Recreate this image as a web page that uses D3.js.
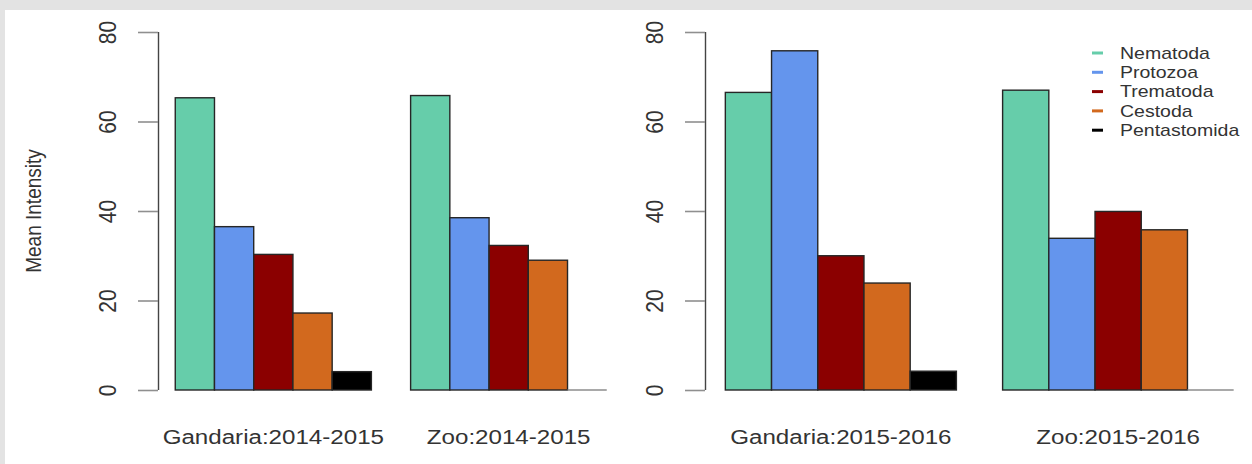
<!DOCTYPE html>
<html>
<head>
<meta charset="utf-8">
<script src="https://cdn.jsdelivr.net/npm/d3@7"></script>
<style>
  html, body { margin: 0; padding: 0; background: #e3e3e3; }
  svg { display: block; }
  text { font-family: "Liberation Sans", Arial, Helvetica, sans-serif; fill: #333; }
</style>
</head>
<body>
<svg id="chart" width="1252" height="464"></svg>
<script>
// Parasite groups, in bar order within each site/season group
const categories = ["Nematoda", "Protozoa", "Trematoda", "Cestoda", "Pentastomida"];
const colors = ["#66CDAA", "#6495ED", "#8B0000", "#D2691E", "#000000"];

// Season 2014-2015
const groups1415 = ["Gandaria:2014-2015", "Zoo:2014-2015"];
const gandaria1415 = [65.3, 36.5, 30.3, 17.2, 4.1];
const zoo1415 = [65.8, 38.5, 32.3, 29.0, 0];

// Season 2015-2016
const groups1516 = ["Gandaria:2015-2016", "Zoo:2015-2016"];
const gandaria1516 = [66.5, 75.8, 30.0, 23.9, 4.2];
const zoo1516 = [67.0, 33.9, 39.9, 35.8, 0];

const yTicks = [0, 20, 40, 60, 80];
const yLabel = "Mean Intensity";

const svg = d3.select("#chart");

// white plotting page over a grey surround
svg.append("rect").attr("x", 5).attr("y", 10).attr("width", 1247).attr("height", 454).attr("fill", "#fff");

const stretch = 1.15;   // horizontal text widening used throughout

function panel(groups, series, x0, x1) {
  const g = svg.append("g");
  const nCat = categories.length;
  // bar-unit positions: group i occupies [1 + i*(nCat+1), 1 + i*(nCat+1) + nCat]
  const uMax = groups.length * nCat + (groups.length - 1);
  const pad = 0.04 * (uMax);
  const x = d3.scaleLinear().domain([1 - pad, 1 + uMax + pad]).range([x0, x1]);
  const y = d3.scaleLinear().domain([0, 80]).range([390, 32]);

  const bars = [];
  groups.forEach((grp, gi) => {
    series[gi].forEach((v, ci) => {
      const u = 1 + gi * (nCat + 1) + ci;
      bars.push({ v, ci, u });
    });
  });

  // bars with a value
  g.selectAll("rect.bar").data(bars.filter(d => d.v > 0)).join("rect")
    .attr("class", "bar")
    .attr("x", d => x(d.u))
    .attr("width", d => x(d.u + 1) - x(d.u))
    .attr("y", d => y(d.v))
    .attr("height", d => y(0) - y(d.v))
    .attr("fill", d => colors[d.ci])
    .attr("stroke", "#262626")
    .attr("stroke-width", 1.4);

  // zero-height bars collapse to their outline
  g.selectAll("line.zero").data(bars.filter(d => d.v === 0)).join("line")
    .attr("class", "zero")
    .attr("x1", d => x(d.u)).attr("x2", d => x(d.u + 1))
    .attr("y1", y(0)).attr("y2", y(0))
    .attr("stroke", "#8c8c8c").attr("stroke-width", 1.6);

  // y axis
  const ax = g.append("g").attr("transform", `translate(${x0},0)`)
    .call(d3.axisLeft(y).tickValues(yTicks).tickSize(20).tickPadding(0).tickFormat(d3.format("d")));
  ax.select(".domain").attr("stroke", "#444").attr("stroke-width", 1.4)
    .attr("d", `M0.5,${y(0)}V${y(80)}`);
  ax.selectAll(".tick line").attr("stroke", "#8f8f8f").attr("stroke-width", 1.6);
  ax.selectAll(".tick text").remove();
  ax.selectAll(".tick").append("text")
    .attr("transform", `translate(-51,0) scale(${stretch},1) rotate(-90)`)
    .attr("text-anchor", "middle")
    .attr("dy", "0.36em")
    .style("font-size", "21px")
    .text(d => d);

  // group names under each cluster
  groups.forEach((grp, gi) => {
    const cx = x(1 + gi * (nCat + 1) + nCat / 2);
    g.append("text")
      .attr("transform", `translate(${cx},444) scale(${stretch},1)`)
      .attr("text-anchor", "middle")
      .style("font-size", "21px")
      .text(grp);
  });
  return g;
}

panel(groups1415, [gandaria1415, zoo1415], 158, 624);
panel(groups1516, [gandaria1516, zoo1516], 705, 1254);

// y-axis title
svg.append("text")
  .attr("transform", `translate(41,211) scale(${stretch},1) rotate(-90)`)
  .attr("text-anchor", "middle")
  .style("font-size", "19px")
  .text(yLabel);

// legend
const legend = svg.append("g").attr("transform", "translate(1092,53)");
const rows = legend.selectAll("g").data(categories).join("g")
  .attr("transform", (d, i) => `translate(0,${i * 19.3})`);
rows.append("line")
  .attr("x1", 0).attr("x2", 11).attr("y1", 0).attr("y2", 0)
  .attr("stroke", (d, i) => colors[i]).attr("stroke-width", 3);
rows.append("text")
  .attr("transform", "translate(28,0) scale(1.22,1)")
  .attr("dy", "0.36em")
  .style("font-size", "16px")
  .text(d => d);
</script>
</body>
</html>
